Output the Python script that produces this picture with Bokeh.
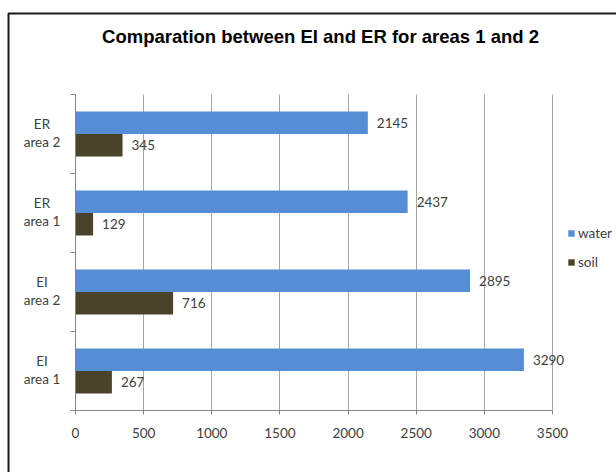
from bokeh.plotting import figure
from bokeh.models import (ColumnDataSource, LabelSet, Label, Legend, LegendItem,
                          FixedTicker, BoxAnnotation, Range1d)
from bokeh.core.properties import value
from bokeh.embed import file_html
from bokeh.resources import INLINE

# Data
categories = ["EI\narea 1", "EI\narea 2", "ER\narea 1", "ER\narea 2"]
water = [3290, 2895, 2437, 2145]
soil = [267, 716, 129, 345]
x_ticks = [0, 500, 1000, 1500, 2000, 2500, 3000, 3500]
title = "Comparation between EI and ER for areas 1 and 2"

WATER_COLOR = "#558ED5"
SOIL_COLOR = "#4A4229"
TEXT_COLOR = "#404040"
AXIS_COLOR = "#868686"
FONT = "Lato"

W, H = 616, 472
# plot area in pixels: x 0..3500 -> 75..552, categories 0..4 -> 410..94 (from top)
X0, X1 = 75, 552
Y0, Y1 = 410, 94
kx = (X1 - X0) / 3500
ky = (Y0 - Y1) / 4

centers = [i + 0.5 for i in range(len(categories))]
bar_h = 0.285

src_w = ColumnDataSource(dict(y=[c + bar_h / 2 for c in centers], x=water,
                              t=[str(v) for v in water]))
src_s = ColumnDataSource(dict(y=[c - bar_h / 2 for c in centers], x=soil,
                              t=[str(v) for v in soil]))
# each category name is two centred lines
first_lines = [c.split("\n")[0] for c in categories]
second_lines = [c.split("\n")[1] for c in categories]
src_c1 = ColumnDataSource(dict(y=centers, x=[0] * len(centers), t=first_lines))
src_c2 = ColumnDataSource(dict(y=centers, x=[0] * len(centers), t=second_lines))

p = figure(width=W, height=H, output_backend="svg", toolbar_location=None,
           x_range=Range1d(-X0 / kx, (W - X0) / kx),
           y_range=Range1d(-(H - Y0) / ky, 4 + Y1 / ky),
           min_border=0)
p.outline_line_color = None
p.background_fill_color = "white"
p.border_fill_color = "white"

rw = p.hbar(y="y", right="x", left=0, height=bar_h, source=src_w,
            fill_color=WATER_COLOR, line_color=None)
rs = p.hbar(y="y", right="x", left=0, height=bar_h, source=src_s,
            fill_color=SOIL_COLOR, line_color=None)

# value labels at the bar ends
for src in (src_w, src_s):
    p.add_layout(LabelSet(x="x", y="y", text="t", source=src, x_offset=9,
                          text_baseline="middle", text_align="left",
                          text_font=value(FONT), text_font_size="13.5px",
                          text_color=TEXT_COLOR))

# category labels left of the axis
for src, dy in ((src_c1, 10.5), (src_c2, -8.2)):
    p.add_layout(LabelSet(x="x", y="y", text="t", source=src, x_offset=-33.5,
                          y_offset=dy, text_baseline="middle", text_align="center",
                          text_font=value(FONT), text_font_size="13.5px",
                          text_color=TEXT_COLOR))

# x axis drawn at category 0
p.xaxis.fixed_location = 0
p.xaxis.bounds = (0, 3500)
p.xaxis.ticker = FixedTicker(ticks=x_ticks)
p.xaxis.minor_tick_line_color = None
p.xaxis.major_tick_in = 0
p.xaxis.major_tick_out = 4
p.xaxis.major_label_standoff = 13
p.xaxis.major_label_text_font = FONT
p.xaxis.major_label_text_font_size = "13.5px"
p.xaxis.major_label_text_color = TEXT_COLOR
p.xaxis.axis_line_color = AXIS_COLOR
p.xaxis.major_tick_line_color = AXIS_COLOR

# y axis drawn at x = 0, ticks at category boundaries only
p.yaxis.fixed_location = 0
p.yaxis.bounds = (0, 4)
p.yaxis.ticker = FixedTicker(ticks=[], minor_ticks=[0, 1, 2, 3, 4])
p.yaxis.major_tick_line_color = None
p.yaxis.minor_tick_in = 0
p.yaxis.minor_tick_out = 5
p.yaxis.minor_tick_line_color = AXIS_COLOR
p.yaxis.axis_line_color = AXIS_COLOR

p.xgrid.ticker = FixedTicker(ticks=x_ticks)
p.xgrid.cross_bounds = (0, 4)
p.xgrid.grid_line_color = "#A6A6A6"
p.ygrid.grid_line_color = None

# title
p.add_layout(Label(x=320, y=H - 36, x_units="screen", y_units="screen",
                   text=title, text_align="center", text_baseline="middle",
                   text_font="Liberation Sans", text_font_size="18.5px",
                   text_font_style="bold", text_color="black"))

# legend
legend = Legend(items=[LegendItem(label="water", renderers=[rw]),
                       LegendItem(label="soil", renderers=[rs])],
                location=(567, H - 272), orientation="vertical",
                label_text_font=FONT, label_text_font_size="13.5px",
                label_text_color=TEXT_COLOR, glyph_width=8, glyph_height=8,
                label_standoff=3, label_height=20, spacing=9, padding=0,
                margin=0, border_line_color=None, background_fill_alpha=0)
p.add_layout(legend)

# chart border
p.add_layout(BoxAnnotation(left=8, right=W + 50, top=H - 13, bottom=-50,
                           left_units="screen", right_units="screen",
                           top_units="screen", bottom_units="screen",
                           fill_alpha=0, line_color="#1A1A1A", line_alpha=1,
                           line_width=2))

open("out.html", "w").write(file_html(p, INLINE))
